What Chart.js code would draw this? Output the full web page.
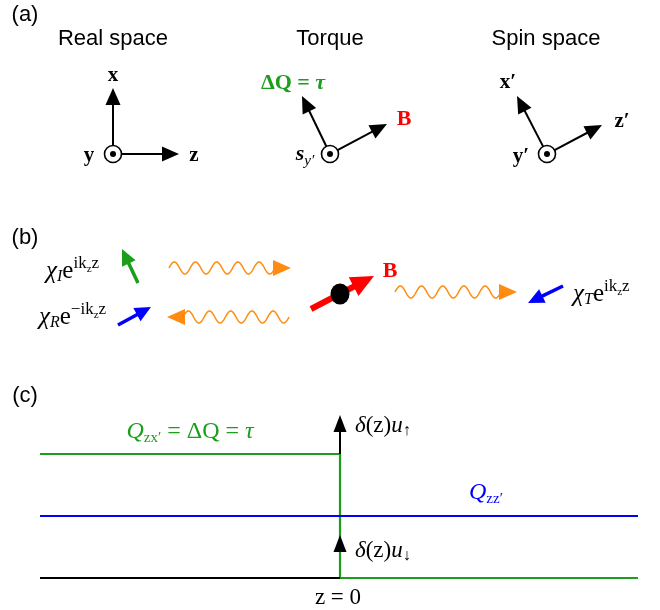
<!DOCTYPE html>
<html><head><meta charset="utf-8">
<script src="https://cdn.jsdelivr.net/npm/chart.js@4/dist/chart.umd.min.js"></script>
<style>html,body{margin:0;padding:0;background:#fff;overflow:hidden}canvas{display:block}</style>
</head><body><canvas id="c" width="660" height="610"></canvas>
<script>
// ---------- data (diagram coordinates, mapped through the chart scales) ----------
const SERIF = '"Liberation Serif","Times New Roman",serif';
const SANS = '"Liberation Sans",Arial,sans-serif';
const GREEN = '#1c9e1c', BLUE = '#0000ff', RED = '#ff0000', ORANGE = '#ff8c10';

// panel titles
const titleTexts = ['(a)', 'Real space', 'Torque', 'Spin space', '(b)', '(c)'];
const titleX = [25, 113, 330, 546, 25, 25];
const titleY = [21, 45, 45, 45, 244, 402];

// panel (a): three frames
const frameOrigins = [[113, 154], [330, 154], [547, 154]];
const frameTipsUp = [[113, 88], [302, 96], [517, 96]];
const frameTipsSide = [[179, 154], [387, 124], [602, 125]];

// panel (b)
const spinFrom = [[138, 283], [118, 325], [563, 286], [311, 309]];
const spinTo = [[122, 249], [151, 307], [528, 303], [374, 276]];
const spinColors = [GREEN, BLUE, BLUE, RED];
const waveStart = [169, 167, 395];
const waveEnd = [291, 289, 517];
const waveLevel = [268, 317, 292];
const waveDir = [1, -1, 1];
const scatterer = [340, 294];

// panel (c)
const zPositions = [40, 340, 638];      // left edge, z = 0, right edge
const qLevels = [454, 516, 578];        // Q_zx' level, Q_zz' level, baseline
const deltaTipUp = 415, deltaTipDown = 535;

// ---------- text labels ----------
function S(t, o) { return Object.assign({ t: t, size: 20 }, o || {}); }
function chi(sub, sign, x, y) {
  return { x: x, y: y, align: 'left', segs: [S('\u03c7', { it: 1, size: 25 }), S(sub, { it: 1, size: 16, dy: 3 }), S('e', { size: 25 }), S(sign + 'ik', { size: 17, dy: -10 }), S('z', { size: 11, dy: -6 }), S('z', { size: 17, dy: -10 })] };
}
const labels = [
  // (a)
  { x: 113, y: 81, align: 'center', segs: [S('x', { b: 1, size: 21 })] },
  { x: 89, y: 161, align: 'center', segs: [S('y', { b: 1, size: 21 })] },
  { x: 194, y: 161, align: 'center', segs: [S('z', { b: 1, size: 21 })] },
  { x: 293, y: 89, align: 'center', segs: [S('\u0394Q = ', { b: 1, size: 22, color: GREEN }), S('\u03c4', { b: 1, it: 1, size: 22, color: GREEN })] },
  { x: 404, y: 125, align: 'center', segs: [S('B', { b: 1, size: 22, color: RED })] },
  { x: 305, y: 160, align: 'center', segs: [S('s', { b: 1, it: 1, size: 22 }), S('y\u2032', { it: 1, size: 15, dy: 5 })] },
  { x: 508, y: 88, align: 'center', segs: [S('x\u2032', { b: 1, size: 21 })] },
  { x: 622, y: 127, align: 'center', segs: [S('z\u2032', { b: 1, size: 21 })] },
  { x: 521, y: 162, align: 'center', segs: [S('y\u2032', { b: 1, size: 21 })] },
  // (b)
  chi('I', '', 46, 278),
  chi('R', '\u2212', 39, 324),
  chi('T', '', 573, 301),
  { x: 390, y: 277, align: 'center', segs: [S('B', { b: 1, size: 22, color: RED })] },
  // (c)
  { x: 190, y: 438, align: 'center', segs: [S('Q', { it: 1, size: 24, color: GREEN }), S('zx\u2032', { size: 15, dy: 4, color: GREEN }), S(' = \u0394Q = ', { size: 24, color: GREEN }), S('\u03c4', { it: 1, size: 24, color: GREEN })] },
  { x: 355, y: 432, align: 'left', segs: [S('\u03b4', { it: 1, size: 23 }), S('(z)', { size: 23 }), S('u', { it: 1, size: 23 }), S('\u2191', { size: 16, dy: 3 })] },
  { x: 355, y: 557, align: 'left', segs: [S('\u03b4', { it: 1, size: 23 }), S('(z)', { size: 23 }), S('u', { it: 1, size: 23 }), S('\u2193', { size: 16, dy: 3 })] },
  { x: 469, y: 499, align: 'left', segs: [S('Q', { it: 1, size: 24, color: BLUE }), S('zz\u2032', { size: 15, dy: 4, color: BLUE })] },
  { x: 338, y: 604, align: 'center', segs: [S('z = 0', { size: 23 })] }
];

// ---------- datasets for panel (c) ----------
const pts = a => a.map(p => ({ x: p[0], y: p[1] }));
const datasets = [
  { data: pts([[zPositions[0], qLevels[1]], [zPositions[2], qLevels[1]]]), borderColor: BLUE, borderWidth: 2 },
  { data: pts([[zPositions[0], qLevels[2]], [zPositions[1], qLevels[2]]]), borderColor: '#000', borderWidth: 2 },
  { data: pts([[zPositions[1], qLevels[0]], [zPositions[1], deltaTipUp + 12]]), borderColor: '#000', borderWidth: 2 },
  { data: pts([[zPositions[0], qLevels[0]], [zPositions[1], qLevels[0]], [zPositions[1], qLevels[2]], [zPositions[2], qLevels[2]]]), borderColor: GREEN, borderWidth: 2.2 }
].map(d => Object.assign(d, { showLine: true, pointRadius: 0, fill: false, tension: 0, borderJoinStyle: 'miter' }));

// ---------- drawing helpers ----------
function fontOf(s) { return (s.it ? 'italic ' : '') + (s.b ? 'bold ' : '') + s.size + 'px ' + (s.fam || SERIF); }
function rich(ctx, x, y, segs, align) {
  let total = 0;
  segs.forEach(s => { ctx.font = fontOf(s); s.w = ctx.measureText(s.t).width; total += s.w; });
  let cx = align === 'center' ? x - total / 2 : (align === 'right' ? x - total : x);
  ctx.textBaseline = 'alphabetic'; ctx.textAlign = 'left';
  segs.forEach(s => { ctx.font = fontOf(s); ctx.fillStyle = s.color || '#000'; ctx.fillText(s.t, cx, y + (s.dy || 0)); cx += s.w; });
}
function arrow(ctx, x1, y1, x2, y2, color, lw, hl, hw) {
  const dx = x2 - x1, dy = y2 - y1, L = Math.hypot(dx, dy), ux = dx / L, uy = dy / L;
  const bx = x2 - ux * hl, by = y2 - uy * hl;
  ctx.strokeStyle = color; ctx.fillStyle = color; ctx.lineWidth = lw; ctx.lineCap = 'butt';
  ctx.beginPath(); ctx.moveTo(x1, y1); ctx.lineTo(bx + ux * 2, by + uy * 2); ctx.stroke();
  ctx.beginPath(); ctx.moveTo(x2, y2); ctx.lineTo(bx - uy * hw / 2, by + ux * hw / 2); ctx.lineTo(bx + uy * hw / 2, by - ux * hw / 2); ctx.closePath(); ctx.fill();
}
function head(ctx, x, y, dirx, diry, color, hl, hw) {
  const bx = x - dirx * hl, by = y - diry * hl;
  ctx.fillStyle = color; ctx.beginPath(); ctx.moveTo(x, y);
  ctx.lineTo(bx - diry * hw / 2, by + dirx * hw / 2); ctx.lineTo(bx + diry * hw / 2, by - dirx * hw / 2); ctx.closePath(); ctx.fill();
}

const diagram = {
  id: 'diagram',
  afterDatasetsDraw(chart) {
    const ctx = chart.ctx, X = chart.scales.x, Y = chart.scales.y;
    const px = v => X.getPixelForValue(v), py = v => Y.getPixelForValue(v);
    ctx.save();
    // titles
    ctx.font = '22px ' + SANS; ctx.fillStyle = '#000'; ctx.textAlign = 'center'; ctx.textBaseline = 'alphabetic';
    titleTexts.forEach((t, i) => ctx.fillText(t, px(titleX[i]), py(titleY[i])));
    // (a) frames
    frameOrigins.forEach((o, i) => {
      const ox = px(o[0]), oy = py(o[1]);
      [frameTipsUp[i], frameTipsSide[i]].forEach(t => {
        const tx = px(t[0]), ty = py(t[1]);
        const L = Math.hypot(tx - ox, ty - oy);
        const sx = ox + (tx - ox) / L * 8, sy = oy + (ty - oy) / L * 8;
        arrow(ctx, sx, sy, tx, ty, '#000', 2, 17, 15);
      });
      ctx.strokeStyle = '#000'; ctx.lineWidth = 1.6;
      ctx.beginPath(); ctx.arc(ox, oy, 8.5, 0, Math.PI * 2); ctx.stroke();
      ctx.fillStyle = '#000'; ctx.beginPath(); ctx.arc(ox, oy, 3, 0, Math.PI * 2); ctx.fill();
    });
    // (b) waves (wavy photon lines)
    waveStart.forEach((x1, i) => {
      const a = px(x1), b = px(waveEnd[i]), y = py(waveLevel[i]), hl = 18, hw = 16;
      const ws = waveDir[i] > 0 ? a : a + hl - 2, we = waveDir[i] > 0 ? b - hl + 2 : b;
      const period = (we - ws) / 5, amp = 6;
      ctx.strokeStyle = ORANGE; ctx.lineWidth = 1.5; ctx.beginPath();
      for (let k = 0; k <= 240; k++) {
        const xx = ws + (we - ws) * k / 240;
        const yy = y - amp * Math.sin(2 * Math.PI * (waveDir[i] > 0 ? (xx - ws) : (we - xx)) / period) * (waveDir[i] > 0 ? 1 : -1);
        k ? ctx.lineTo(xx, yy) : ctx.moveTo(xx, yy);
      }
      ctx.stroke();
      if (waveDir[i] > 0) head(ctx, b, y, 1, 0, ORANGE, hl, hw); else head(ctx, a, y, -1, 0, ORANGE, hl, hw);
    });
    // (b) spin arrows
    spinFrom.forEach((f, i) => {
      const big = spinColors[i] === RED;
      arrow(ctx, px(f[0]), py(f[1]), px(spinTo[i][0]), py(spinTo[i][1]), spinColors[i], big ? 6 : 3.5, big ? 23 : 16, big ? 21 : 15);
    });
    ctx.fillStyle = '#000'; ctx.beginPath();
    ctx.ellipse(px(scatterer[0]), py(scatterer[1]), 9.5, 10.5, 0, 0, Math.PI * 2); ctx.fill();
    // (c) delta arrowheads
    head(ctx, px(zPositions[1]), py(deltaTipUp), 0, -1, '#000', 17, 13);
    head(ctx, px(zPositions[1]), py(deltaTipDown), 0, -1, '#000', 17, 13);
    // labels
    labels.forEach(l => rich(ctx, px(l.x), py(l.y), l.segs, l.align));
    ctx.restore();
  }
};

new Chart(document.getElementById('c').getContext('2d'), {
  type: 'scatter',
  data: { datasets: datasets },
  options: {
    responsive: false, animation: false, devicePixelRatio: 1, events: [],
    layout: { padding: 0 },
    plugins: { legend: { display: false }, tooltip: { enabled: false } },
    scales: {
      x: { type: 'linear', min: 0, max: 660, display: false },
      y: { type: 'linear', min: 0, max: 610, reverse: true, display: false }
    }
  },
  plugins: [diagram]
});
</script>
</body></html>
